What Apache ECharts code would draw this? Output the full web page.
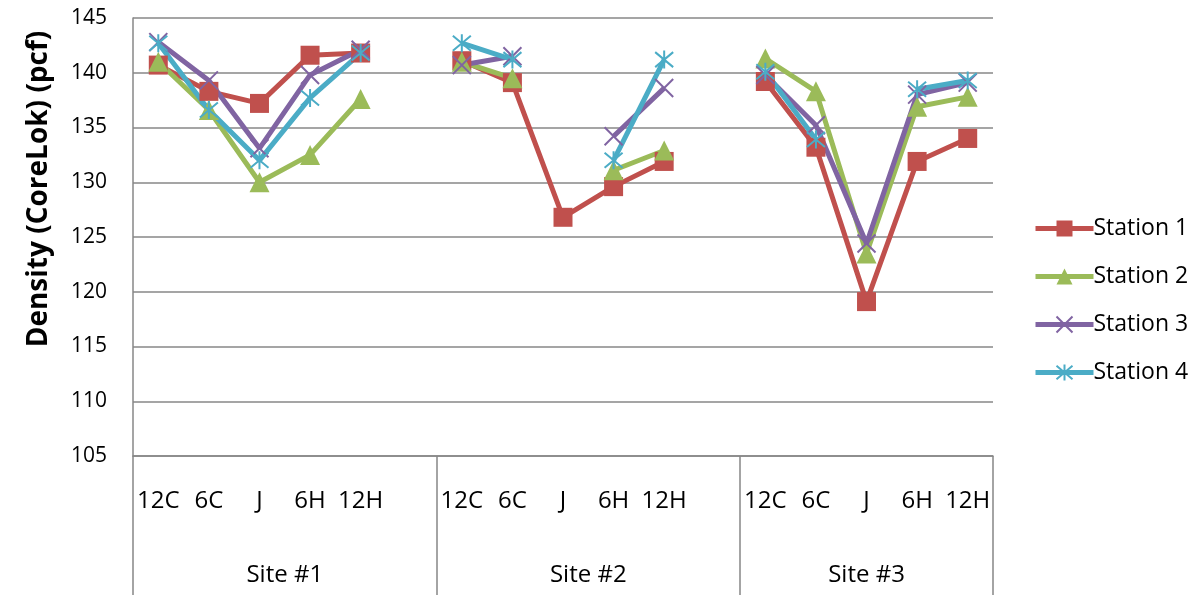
<!DOCTYPE html>
<html>
<head>
<meta charset="utf-8">
<script src="https://cdn.jsdelivr.net/npm/echarts@6/dist/echarts.min.js"></script>
<style>
  html, body { margin: 0; padding: 0; background: #fff; }
  #chart { width: 1199px; height: 595px; }
</style>
</head>
<body>
<div id="chart"></div>
<script>
// Density readings (pcf) at each measurement position, grouped by site
const sites = ['Site #1', 'Site #2', 'Site #3'];
const positions = ['12C', '6C', 'J', '6H', '12H'];
const stationNames = ['Station 1', 'Station 2', 'Station 3', 'Station 4'];

const station1 = [
  [140.7, 138.3, 137.2, 141.6, 141.8],
  [141.1, 139.1, 126.8, 129.6, 131.9],
  [139.2, 133.2, 119.1, 131.9, 134.0]
];
const station2 = [
  [141.0, 136.6, 130.0, 132.5, 137.6],
  [141.0, 139.5, null, 131.1, 132.9],
  [141.3, 138.3, 123.5, 136.9, 137.8]
];
const station3 = [
  [142.8, 139.3, 133.1, 139.8, 142.1],
  [140.7, 141.5, null, 134.2, 138.6],
  [139.8, 135.2, 124.4, 138.0, 139.1]
];
const station4 = [
  [142.7, 136.6, 132.0, 137.7, 141.8],
  [142.7, 141.2, null, 132.0, 141.2],
  [140.1, 133.9, null, 138.5, 139.3]
];

const yTicks = { min: 105, max: 145, step: 5 };

// Flatten the grouped values onto one category axis, with an empty
// spacer category between consecutive sites.
const categories = [];
const siteStart = [];
sites.forEach((s, i) => {
  siteStart.push(categories.length);
  positions.forEach(p => categories.push(p));
  if (i < sites.length - 1) categories.push('');
});
const total = categories.length;
const siteBounds = siteStart.concat([total]);
const siteCenters = sites.map((s, i) => (siteBounds[i] + siteBounds[i + 1]) / 2);

function flatten(groups) {
  const out = [];
  groups.forEach((g, i) => {
    g.forEach(v => out.push(v));
    if (i < groups.length - 1) out.push(null);
  });
  return out;
}

const colors = ['#C0504D', '#9BBB59', '#8064A2', '#4BACC6'];
const symbols = [
  'rect',
  'triangle',
  'path://M0,0L10,10M10,0L0,10',
  'path://M0,0L10,10M10,0L0,10M5,-1L5,11'
];
const symbolSizes = [19, 20, 18, 18];
const stationData = [station1, station2, station3, station4];

const FONT = '"Open Sans", "Liberation Sans", sans-serif';
const GRID_COLOR = '#878787';

const series = stationData.map((d, i) => ({
  name: stationNames[i],
  type: 'line',
  data: flatten(d),
  xAxisIndex: 0,
  connectNulls: false,
  symbol: symbols[i],
  symbolSize: symbolSizes[i],
  showAllSymbol: true,
  lineStyle: { color: colors[i], width: 5 },
  itemStyle: {
    color: colors[i],
    borderColor: colors[i],
    borderWidth: i >= 2 ? 2 : 0
  },
  emphasis: { disabled: true }
}));

const chart = echarts.init(document.getElementById('chart'), null, { renderer: 'canvas' });
chart.setOption({
  animation: false,
  color: colors,
  grid: { left: 133, right: 206, top: 18, bottom: 139, containLabel: false },
  legend: {
    orient: 'vertical',
    left: 1028,
    top: 212,
    itemWidth: 58,
    itemHeight: 20,
    itemGap: 25,
    lineStyle: { width: 5 },
    textStyle: { fontFamily: FONT, fontSize: 23, color: '#000', padding: [0, 0, 0, -5] },
    data: stationNames
  },
  xAxis: [
    {
      type: 'category',
      data: categories,
      position: 'bottom',
      boundaryGap: true,
      axisLine: { show: true, lineStyle: { color: GRID_COLOR, width: 1.5 } },
      axisTick: { show: false },
      axisLabel: {
        interval: 0,
        margin: 33,
        fontFamily: FONT,
        fontSize: 24,
        color: '#000'
      },
      splitLine: { show: false }
    },
    {
      type: 'value',
      min: 0,
      max: total,
      position: 'bottom',
      axisLine: { show: false },
      splitLine: { show: false },
      axisTick: {
        show: true,
        customValues: siteBounds,
        length: 139,
        lineStyle: { color: GRID_COLOR, width: 1.5 }
      },
      axisLabel: {
        show: true,
        customValues: siteCenters,
        margin: 107,
        fontFamily: FONT,
        fontSize: 24,
        color: '#000',
        formatter: v => {
          const i = siteCenters.indexOf(v);
          return i >= 0 ? sites[i] : '';
        }
      }
    }
  ],
  yAxis: {
    type: 'value',
    min: yTicks.min,
    max: yTicks.max,
    interval: yTicks.step,
    name: 'Density (CoreLok) (pcf)',
    nameLocation: 'middle',
    nameRotate: 90,
    nameGap: 80,
    nameTextStyle: {
      fontFamily: FONT,
      fontSize: 28,
      fontWeight: 'bold',
      color: '#000',
      padding: [0, 0, 0, 96]
    },
    axisLine: { show: true, lineStyle: { color: GRID_COLOR, width: 1.5 } },
    axisTick: { show: false },
    axisLabel: { margin: 26, fontFamily: FONT, fontSize: 21, color: '#000' },
    splitLine: { show: true, lineStyle: { color: GRID_COLOR, width: 1.5 } }
  },
  series: series
});
</script>
</body>
</html>
